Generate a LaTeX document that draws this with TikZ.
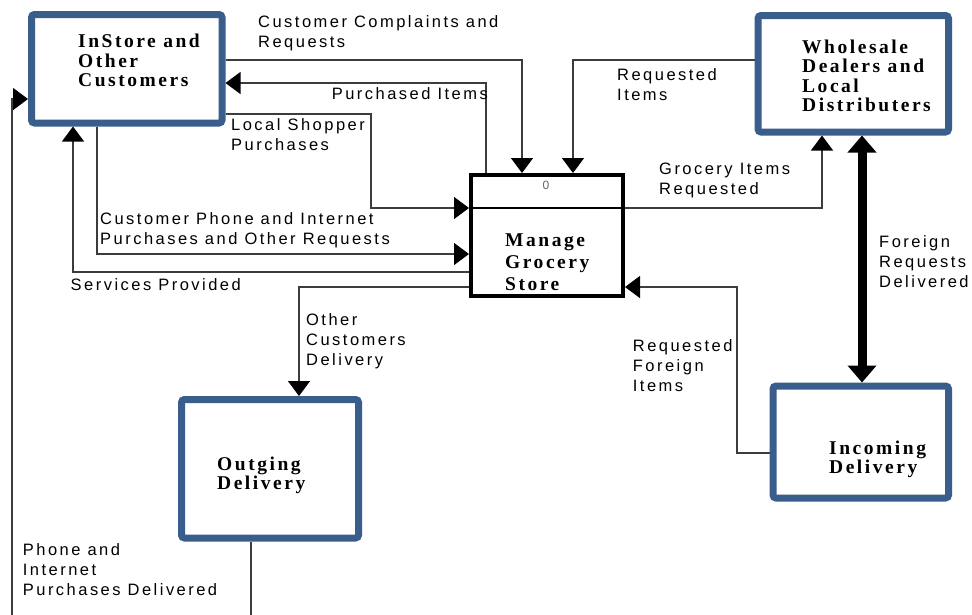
\documentclass[tikz,border=0pt]{standalone}
\usepackage{fontspec}
\setmainfont{Liberation Serif}
\newfontfamily\flowfont{Liberation Sans}[LetterSpace=15]
\newfontfamily\entityfont{Liberation Serif}[LetterSpace=13]
\usetikzlibrary{arrows.meta}
\definecolor{entityblue}{RGB}{58,94,140}
\definecolor{flowgrey}{RGB}{60,60,60}

\begin{document}
\begin{tikzpicture}[x=1pt,y=-1pt,
  entity/.style={draw=entityblue, line width=7pt, rounded corners=3pt,
    fill=white, inner sep=0pt},
  process/.style={draw=black, line width=4pt, fill=white, inner sep=0pt},
  % text nodes are placed by the baseline of their last line
  boxtext/.style={anchor=base west, align=left, inner sep=0pt,
    font=\entityfont\bfseries\fontsize{19.5}{19.5}\selectfont},
  flowtext/.style={anchor=base west, align=left, inner sep=0pt,
    font=\flowfont\fontsize{16.5}{20}\selectfont},
  plain/.style={draw=flowgrey, line width=1.1pt},
  flow/.style={plain, -{Triangle[length=15pt,width=22pt,color=black]}},
  bigflow/.style={draw=black, line width=9pt,
    {Triangle[length=17pt,width=28pt]}-{Triangle[length=17pt,width=28pt]}}
]
\useasboundingbox (0,0) rectangle (972,614);
\fill[white] (0,0) rectangle (972,614);
\clip (0,0) rectangle (972,614);

% external entities and the process
\node[entity, minimum width=190.5pt, minimum height=108.5pt] (cust)  at (126.75,68.75) {};
\node[entity, minimum width=190.5pt, minimum height=116.5pt] (whole) at (853.25,73.75) {};
\node[entity, minimum width=177pt,   minimum height=138.5pt] (outg)  at (270,468.75) {};
\node[entity, minimum width=175.5pt, minimum height=112pt]   (inc)   at (860.75,442) {};
\node[process, minimum width=152pt,  minimum height=121pt]   (mgs)   at (547,235.5) {};
\draw[line width=1.1pt] (mgs.west |- 0,208) -- (mgs.east |- 0,208);
\node[font=\flowfont\fontsize{12}{12}\selectfont, text=black!60, inner sep=0pt] (pid) at (546,185) {0};

% box titles
\node[boxtext] (custT)  at (78,86.5) {InStore and\\Other\\Customers};
\node[boxtext, /utils/exec={\fontsize{19.5}{20.3}\selectfont}] (wholeT) at (802,111.5) {Wholesale\\Dealers and\\Local\\Distributers};
\node[boxtext, font=\entityfont\bfseries\fontsize{19.5}{22}\selectfont,
      /utils/exec={\addfontfeature{LetterSpace=17}}] (mgsT) at (505,290.5) {Manage\\Grocery\\Store};
\node[boxtext] (outgT)  at (217,489.5) {Outging\\Delivery};
\node[boxtext, /utils/exec={\fontsize{19.5}{19}\selectfont}] (incT) at (829,473.5) {Incoming\\Delivery};

% data flows
\draw[flow] (cust.east |- 0,60) -| (522,0 |- mgs.north);
\draw[flow] (486,0 |- mgs.north) |- (cust.east |- 0,83);
\draw[flow] (cust.east |- 0,114) -| (371,208) -- (mgs.west |- 0,208);
\draw[flow] (97,0 |- cust.south) |- (mgs.west |- 0,254);
\draw[flow] (mgs.west |- 0,272) -| (73,0 |- cust.south);
\draw[flow] (mgs.west |- 0,287) -| (299,0 |- outg.north);
\draw[flow] (251,0 |- outg.south) -- (251,640) -| (12,99) -- (cust.west |- 0,99);
\draw[flow] (whole.west |- 0,60) -| (573,0 |- mgs.north);
\draw[flow] (mgs.east |- 0,208) -| (822,0 |- whole.south);
\draw[bigflow] (862,0 |- whole.south) -- (862,0 |- inc.north);
\draw[flow] (inc.west |- 0,453) -| (737,287) -- (mgs.east |- 0,287);

% flow labels
\node[flowtext] (l1)  at (258,47.3)  {Customer Complaints and\\Requests};
\node[flowtext, anchor=base east] (l2) at (488,99) {Purchased Items};
\node[flowtext] (l3)  at (231,150.7) {Local Shopper\\Purchases};
\node[flowtext] (l4)  at (100,244)   {Customer Phone and Internet\\Purchases and Other Requests};
\node[flowtext] (l5)  at (70.5,290.5) {Services Provided};
\node[flowtext, /utils/exec={\fontsize{16.5}{19.5}\selectfont}] (l6) at (306,365) {Other\\Customers\\Delivery};
\node[flowtext, /utils/exec={\fontsize{16.5}{19.2}\selectfont}] (l7) at (22.7,595) {Phone and\\Internet\\Purchases Delivered};
\node[flowtext, /utils/exec={\fontsize{16.5}{19}\selectfont}] (l8) at (617,100) {Requested\\Items};
\node[flowtext] (l9)  at (659,194.3) {Grocery Items\\Requested};
\node[flowtext, /utils/exec={\fontsize{16.5}{19.5}\selectfont}] (l10) at (879,287) {Foreign\\Requests\\Delivered};
\node[flowtext, /utils/exec={\fontsize{16.5}{19.2}\selectfont}] (l11) at (632.7,391.7) {Requested\\Foreign\\Items};
\end{tikzpicture}
\end{document}
